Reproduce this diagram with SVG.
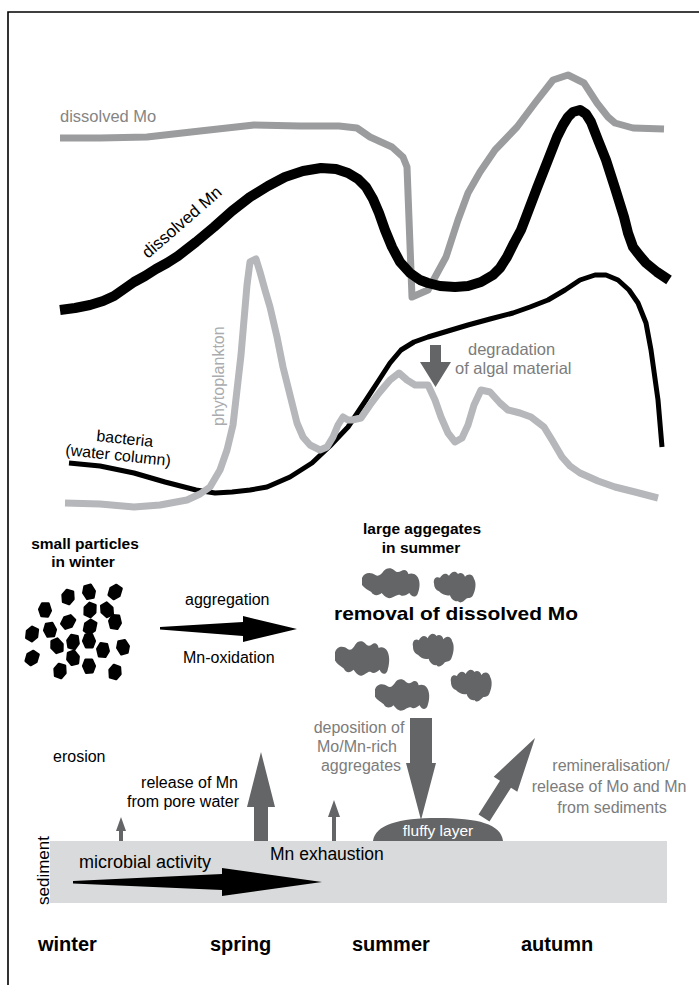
<svg xmlns="http://www.w3.org/2000/svg" width="699" height="985" viewBox="0 0 699 985">
  <style>
    text { font-family: "Liberation Sans", Arial, sans-serif; }
    .blk { fill: #000; }
    .gry { fill: #7c7c7c; }
    .bold { font-weight: bold; }
    .curve { fill: none; stroke-linejoin: round; stroke-linecap: butt; }
    .dark { fill: #646567; }
    .part { fill: #000; stroke: #000; stroke-width: 2.5; stroke-linejoin: round; }
  </style>
  <defs>
    <!-- irregular particle outline -->
    <path id="pent" d="M-2.3,-6.8 L4,-6.2 L5.7,1.1 L2.3,6.8 L-4,5.7 L-5.7,-1.1 Z"/>
    <!-- wide cloud-like aggregate -->
    <path id="blobA" d="M0,10 C2,4 9,4 13,7 C16,9 19,6 21,3 C23,0 28,-1 31,2 C33,4 35,5 38,3 C41,1 44,2 45,6 C47,5 52,5 54,9 C57,14 56,21 54,26 C52,30 48,29 46,25 C43,27 40,29 37,27 C34,26 32,29 28,30 C24,31 21,27 19,25 C16,28 11,28 9,24 C6,22 2,20 0,17 Z"/>
    <!-- narrow aggregate with a pointed lower edge -->
    <path id="blobB" d="M1,14 C0,9 3,6 7,8 C9,4 13,2 16,6 C18,2 22,0 25,4 C27,2 31,3 32,7 C35,3 40,4 41,9 C44,14 42,22 40,26 C38,30 34,28 33,30 C30,33 27,35 25,32 C22,33 18,30 17,26 C13,27 9,25 6,22 C3,21 1,18 1,14 Z"/>
  </defs>

  <!-- frame -->
  <path d="M8,985 V12 H699" fill="none" stroke="#000" stroke-width="1.6"/>

  <!-- time-series curves -->
  <g id="curves">
    <polyline id="curve-mo" class="curve" stroke="#9b9c9e" stroke-width="7" stroke-linejoin="miter" points="60,138 100,138 147,137 200,131 254,125 300,126 339,126 357,128 370,137 392,147 403,157 407,167 412,297 428,290 446,257 458,220 468,193 480,172 495,150 517,127 535,103 553,80 568,75 584,83 597,103 608,117 615,123 633,128 664,129"/>
    <polyline id="curve-mn" class="curve" stroke="#000" stroke-width="10" points="60,310 75,308 90,305 103,301 114,296 124,289 134,282 145,276 156,269 167,263 178,256 196,242 214,227 232,211 250,197 268,186 285,177 303,171 321,168 336,169 348,173 358,179 366,187 373,199 379,213 385,230 392,247 400,262 410,273 420,280 428,283 440,286 455,287 468,286 481,282 493,275 500,268 507,257 514,243 521,230 526,217 537,188 548,160 557,137 563,125 568,117 573,112 580,110 586,114 591,122 598,140 606,160 615,188 624,217 628,233 633,247 640,256 646,263 657,272 669,280"/>
    <polyline id="curve-bacteria" class="curve" stroke="#000" stroke-width="5" points="69,463 100,466 134,473 165,482 196,490 215,493 232,492 250,490 267,487 290,477 312,463 330,446 348,427 364,403 379,380 390,363 401,350 414,342 428,337 448,331 468,325 490,319 513,313 530,307 548,300 565,290 580,280 595,275 606,275 618,280 629,290 638,303 646,323 651,350 658,400 662,447"/>
    <polyline id="curve-phyto" class="curve" stroke="#b5b7ba" stroke-width="7" points="65,503 100,504 134,507 160,505 187,500 200,494 210,487 220,470 227,450 233,425 237,390 241,355 244,320 247,285 250,262 256,259 260,272 265,290 270,307 277,337 283,367 290,395 297,423 303,437 310,445 320,450 327,447 333,437 338,425 343,417 348,420 352,420 361,418 370,405 379,393 390,380 399,373 407,380 415,385 428,385 435,400 441,417 448,433 455,442 462,438 468,425 474,405 481,390 490,392 500,403 508,410 520,413 531,417 544,427 552,440 562,457 570,466 580,473 598,481 615,487 635,492 658,498"/>
  </g>

  <!-- curve labels -->
  <g id="curve-labels">
    <text x="60" y="122" font-size="16.5" fill="#858585">dissolved Mo</text>
    <text transform="translate(148,259) rotate(-41)" font-size="17" class="blk">dissolved Mn</text>
    <text transform="translate(224,426) rotate(-90)" font-size="16" fill="#a9abae">phytoplankton</text>
    <text transform="translate(96,441) rotate(6)" font-size="16" class="blk">bacteria</text>
    <text transform="translate(65,455) rotate(6)" font-size="16" class="blk">(water column)</text>
  </g>

  <!-- degradation of algal material -->
  <g id="degradation">
    <path class="dark" d="M430,345 H441 V362 H451 L435.5,387 L420,362 H430 Z"/>
    <text x="468" y="355" font-size="16.5" class="gry">degradation</text>
    <text x="455" y="374" font-size="16.5" class="gry">of algal material</text>
  </g>

  <!-- small particles in winter -->
  <g id="small-particles">
    <text x="85" y="549" font-size="15.5" text-anchor="middle" class="bold">small particles</text>
    <text x="83" y="567" font-size="15.5" text-anchor="middle" class="bold">in winter</text>
    <g class="part">
      <use href="#pent" transform="translate(68,597) rotate(10)"/>
      <use href="#pent" transform="translate(89,592) rotate(-20)"/>
      <use href="#pent" transform="translate(115,592) rotate(30)"/>
      <use href="#pent" transform="translate(45,610) rotate(-5)"/>
      <use href="#pent" transform="translate(90,610) rotate(15)"/>
      <use href="#pent" transform="translate(107,610) rotate(-35)"/>
      <use href="#pent" transform="translate(68,622) rotate(40)"/>
      <use href="#pent" transform="translate(115,622) rotate(0)"/>
      <use href="#pent" transform="translate(32,634) rotate(20)"/>
      <use href="#pent" transform="translate(50,630) rotate(-15)"/>
      <use href="#pent" transform="translate(90,627) rotate(25)"/>
      <use href="#pent" transform="translate(57,646) rotate(-30)"/>
      <use href="#pent" transform="translate(73,642) rotate(5)"/>
      <use href="#pent" transform="translate(89,641) rotate(-10)"/>
      <use href="#pent" transform="translate(103,650) rotate(180)"/>
      <use href="#pent" transform="translate(123,647) rotate(160)"/>
      <use href="#pent" transform="translate(32,658) rotate(30)"/>
      <use href="#pent" transform="translate(73,658) rotate(-25)"/>
      <use href="#pent" transform="translate(89,666) rotate(170)"/>
      <use href="#pent" transform="translate(60,671) rotate(10)"/>
      <use href="#pent" transform="translate(115,672) rotate(190)"/>
    </g>
  </g>

  <!-- aggregation / Mn-oxidation arrow -->
  <g id="aggregation">
    <text x="185" y="605" font-size="16" class="blk">aggregation</text>
    <path fill="#000" d="M160,627 L243,622 L243,616 L297,629 L243,642 L243,636 L160,629.5 Z"/>
    <text x="183" y="663" font-size="16" class="blk">Mn-oxidation</text>
  </g>

  <!-- large aggregates in summer -->
  <g id="large-aggregates">
    <text x="422" y="534" font-size="15.5" text-anchor="middle" class="bold">large aggegates</text>
    <text x="421" y="553" font-size="15.5" text-anchor="middle" class="bold">in summer</text>
    <text x="334" y="620" font-size="19" class="bold" textLength="244" lengthAdjust="spacingAndGlyphs">removal of dissolved Mo</text>
    <g class="dark">
      <use href="#blobA" transform="translate(362,568) scale(1.03,1)"/>
      <use href="#blobB" transform="translate(433,570) scale(1.0,0.97)"/>
      <use href="#blobA" transform="translate(335,641) scale(0.97,1.15)"/>
      <use href="#blobB" transform="translate(412,632) scale(0.98,1.03)"/>
      <use href="#blobA" transform="translate(375,679) scale(0.97,1.05)"/>
      <use href="#blobB" transform="translate(450,668) scale(0.98,1.0)"/>
    </g>
  </g>

  <!-- deposition to the sediment -->
  <g id="deposition">
    <text x="359" y="733" font-size="16" text-anchor="middle" class="gry">deposition of</text>
    <text x="357" y="752" font-size="16" text-anchor="middle" class="gry">Mo/Mn-rich</text>
    <text x="361" y="771" font-size="16" text-anchor="middle" class="gry">aggregates</text>
  </g>

  <!-- remineralisation -->
  <g id="remineralisation">
    <text x="611" y="771" font-size="16" text-anchor="middle" class="gry">remineralisation/</text>
    <text x="609" y="792" font-size="16" text-anchor="middle" class="gry">release of Mo and Mn</text>
    <text x="612" y="813" font-size="16" text-anchor="middle" class="gry">from sediments</text>
  </g>

  <!-- release of Mn from pore water, erosion -->
  <g id="pore-water">
    <text x="53" y="762" font-size="16" class="blk">erosion</text>
    <text x="238" y="788" font-size="16" text-anchor="end" class="blk">release of Mn</text>
    <text x="239" y="807" font-size="16" text-anchor="end" class="blk">from pore water</text>
  </g>

  <!-- sediment layer -->
  <g id="sediment">
    <rect x="50" y="841" width="617" height="62" fill="#d9dadb"/>
    <text transform="translate(49,905) rotate(-90)" font-size="17" class="blk">sediment</text>
    <text x="79" y="868" font-size="18" class="blk">microbial activity</text>
    <text x="270" y="860" font-size="17.5" class="blk">Mn exhaustion</text>
  </g>

  <!-- fluffy layer -->
  <g id="fluffy-layer">
    <path class="dark" d="M373,841 C375,825 398,818 438,818 C478,818 501,824 503,841 Z"/>
    <text x="438" y="836" font-size="15.5" text-anchor="middle" fill="#fff">fluffy layer</text>
  </g>

  <!-- arrows -->
  <g id="connectors">
    <path class="dark" d="M410,718 H432 V763 H436 L421,820 L406,763 H410 Z"/>
    <path class="dark" transform="translate(484,818) rotate(32.5)" d="M-6.5,0 V-40 H-14 L0,-95 L14,-40 H6.5 V0 Z"/>
    <path class="dark" d="M119,841 V831 H116 L121,817 L126,831 H123 V841 Z"/>
    <path class="dark" d="M254,841 V807 H247 L261,752 L275,807 H268 V841 Z"/>
    <path class="dark" d="M332,841 V817 H328 L334,800 L340,817 H336 V841 Z"/>
    <path fill="#000" d="M73,881 L222,874 L222,868 L322,882 L222,896 L222,890 L73,883.5 Z"/>
  </g>

  <!-- seasons -->
  <g id="seasons" class="bold" font-size="20">
    <text x="38" y="951">winter</text>
    <text x="210" y="951">spring</text>
    <text x="352" y="951">summer</text>
    <text x="521" y="951">autumn</text>
  </g>
</svg>
